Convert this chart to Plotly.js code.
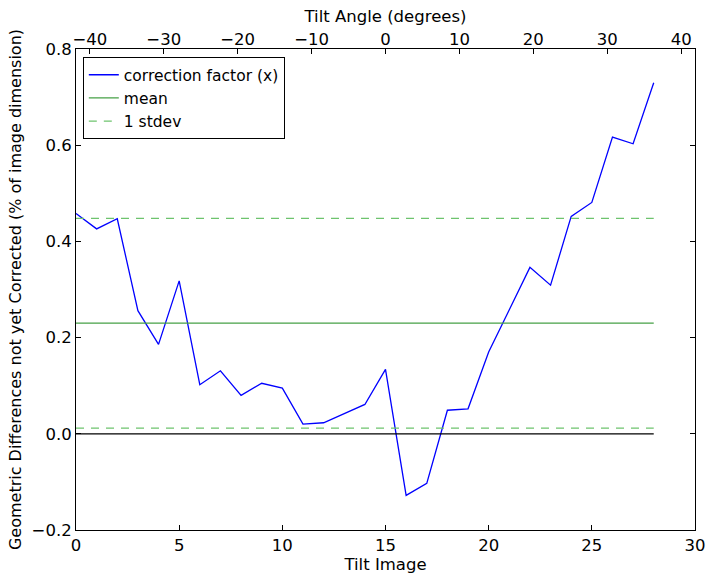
<!DOCTYPE html>
<html>
<head>
<meta charset="utf-8">
<script src="https://cdn.plot.ly/plotly-3.0.1.min.js"></script>
<style>html,body{margin:0;padding:0;background:#fff;}#chart{width:714px;height:579px;}</style>
</head>
<body>
<div id="chart"></div>
<script>
// Data
const tiltImage = [0,1,2,3,4,5,6,7,8,9,10,11,12,13,14,15,16,17,18,19,20,21,22,23,24,25,26,27,28];
const correction = [0.458,0.426,0.447,0.256,0.186,0.318,0.102,0.131,0.080,0.105,0.095,0.020,0.023,0.042,0.061,0.134,-0.128,-0.103,0.049,0.052,0.170,0.258,0.346,0.309,0.452,0.481,0.617,0.603,0.730];
const meanValue = 0.230;
const stdevValue = 0.218;
const lineExtent = [0, 28];
const angleTicks = [-40,-30,-20,-10,0,10,20,30,40];

const font = {family: 'DejaVu Sans, sans-serif', size: 16.5, color: '#000'};
const yTitleFont = {family: 'DejaVu Sans, sans-serif', size: 16, color: '#000'};
const meanColor = 'rgb(70,160,70)';
const stdColor = 'rgb(110,195,110)';

const traces = [
  {x: tiltImage, y: correction, mode: 'lines', name: 'correction factor (x)',
   line: {color: '#0000ff', width: 1.3}, xaxis: 'x', yaxis: 'y'},
  {x: lineExtent, y: [meanValue, meanValue], mode: 'lines', name: 'mean',
   line: {color: meanColor, width: 1.3}},
  {x: lineExtent, y: [meanValue + stdevValue, meanValue + stdevValue], mode: 'lines', name: '1 stdev',
   line: {color: stdColor, width: 1.3, dash: '8px,7px'}},
  {x: lineExtent, y: [meanValue - stdevValue, meanValue - stdevValue], mode: 'lines', name: '1 stdev',
   showlegend: false, line: {color: stdColor, width: 1.3, dash: '8px,7px'}},
  {x: lineExtent, y: [0, 0], mode: 'lines', showlegend: false,
   line: {color: '#000', width: 1.3}},
  {x: angleTicks, y: angleTicks.map(() => null), mode: 'lines', xaxis: 'x2', yaxis: 'y',
   showlegend: false, hoverinfo: 'skip', line: {color: 'rgba(0,0,0,0)'}}
];

const layout = {
  width: 714, height: 579,
  margin: {l: 76, r: 19, t: 49, b: 49, pad: 0},
  paper_bgcolor: '#fff', plot_bgcolor: '#fff',
  font: font,
  showlegend: true,
  legend: {x: 0.011, y: 0.983, xanchor: 'left', yanchor: 'top',
           bgcolor: '#fff', bordercolor: '#000', borderwidth: 1,
           font: {family: 'DejaVu Sans, sans-serif', size: 15.5, color: '#000'},
           tracegroupgap: 0},
  xaxis: {range: [0, 30], tickvals: [0,5,10,15,20,25,30], ticks: 'inside', ticklen: 5,
          tickcolor: '#000', showgrid: false, zeroline: false, showline: true,
          linecolor: '#000', linewidth: 1, mirror: true,
          title: {text: 'Tilt Image', font: font, standoff: 1},
          tickfont: font},
  xaxis2: {range: [-41.87, 41.87], overlaying: 'x', side: 'top', anchor: 'y',
           tickvals: angleTicks, ticks: 'inside', ticklen: 5, tickcolor: '#000',
           showgrid: false, zeroline: false, showline: false,
           title: {text: 'Tilt Angle (degrees)', font: font, standoff: 2},
           tickfont: font},
  yaxis: {range: [-0.2, 0.8], tickvals: [-0.2,0,0.2,0.4,0.6,0.8],
          ticktext: ['\u22120.2','0.0','0.2','0.4','0.6','0.8'],
          ticks: 'inside', ticklen: 5, tickcolor: '#000', showgrid: false, zeroline: false,
          showline: true, linecolor: '#000', linewidth: 1, mirror: 'ticks',
          title: {text: 'Geometric Differences not yet Corrected (% of image dimension)', font: yTitleFont, standoff: 6},
          tickfont: font}
};

Plotly.newPlot('chart', traces, layout, {displayModeBar: false, staticPlot: true});
</script>
</body>
</html>
